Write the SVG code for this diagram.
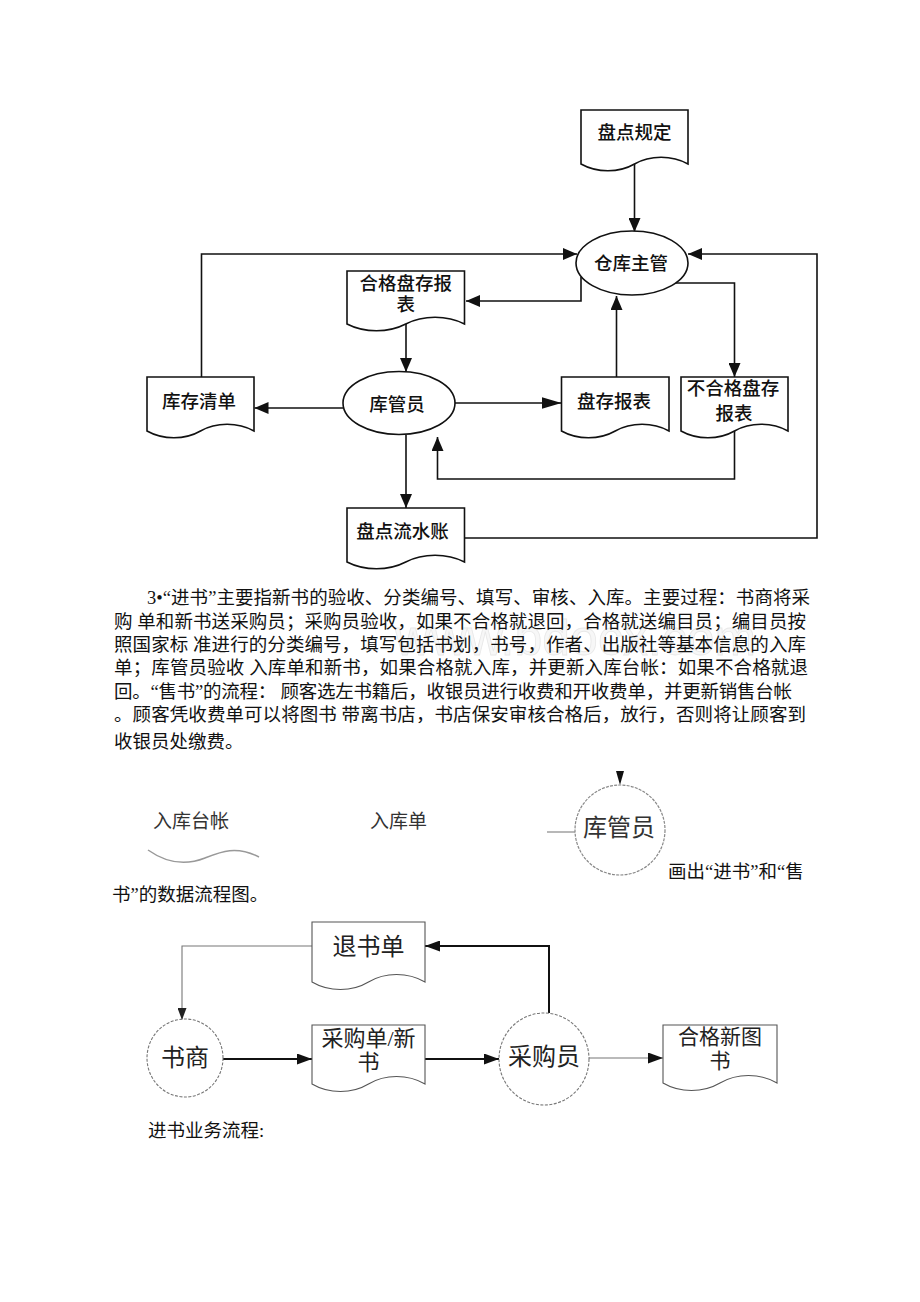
<svg xmlns="http://www.w3.org/2000/svg" width="920" height="1302" viewBox="0 0 920 1302">
<style>
.doc{fill:#fff;stroke:#111;stroke-width:1.6}
.proc{fill:#fff;stroke:#111;stroke-width:1.6}
.ln{fill:none;stroke:#111;stroke-width:1.6}
.t1{font-family:"Noto Sans CJK SC","Noto Sans",sans-serif;font-size:18.5px;font-weight:500;fill:#111;text-anchor:middle;dominant-baseline:central}
.p{font-family:"Liberation Serif","Noto Sans CJK SC",serif;font-size:18.5px;fill:#111;dominant-baseline:central}
.doc2{fill:#fff;stroke:#555;stroke-width:1.1}
.circ2{fill:#fff;stroke:#777;stroke-width:1.1;stroke-dasharray:3 1.5}
.t2{font-family:"Liberation Serif","Noto Sans CJK SC",serif;fill:#222;text-anchor:middle;dominant-baseline:central}
.ln2{fill:none;stroke:#111;stroke-width:2}
.ln3{fill:none;stroke:#777;stroke-width:1.1}
.wm{font-family:"Liberation Sans",sans-serif;font-size:50px;fill:#f7f7f7;stroke:#e8e8e8;stroke-width:0.8}
</style>
<defs>
<marker id="ah" markerUnits="userSpaceOnUse" markerWidth="14" markerHeight="12" refX="14" refY="6" orient="auto"><path d="M0,0 L14,6 L0,12 Z" fill="#111"/></marker>
<marker id="ahL" markerUnits="userSpaceOnUse" markerWidth="20" markerHeight="12" refX="20" refY="6" orient="auto"><path d="M0,0 L20,6 L0,12 Z" fill="#111"/></marker>
<marker id="ahB" markerUnits="userSpaceOnUse" markerWidth="15" markerHeight="11" refX="15" refY="5.5" orient="auto"><path d="M0,0 L15,5.5 L0,11 Z" fill="#111"/></marker>
<marker id="ahS" markerUnits="userSpaceOnUse" markerWidth="12" markerHeight="9" refX="12" refY="4.5" orient="auto"><path d="M0,0 L12,4.5 L0,9 Z" fill="#222"/></marker>
</defs>
<rect width="920" height="1302" fill="#fff"/>

<g id="connectors-top">
<path class="ln" d="M634.5,164 V232" marker-end="url(#ah)"/>
<path class="ln" d="M201.5,377 V254 H577" marker-end="url(#ah)"/>
<path class="ln" d="M464.5,538 H817 V254 H688" marker-end="url(#ah)"/>
<path class="ln" d="M581,277 V301 H466" marker-end="url(#ah)"/>
<path class="ln" d="M406,324 V372" marker-end="url(#ah)"/>
<path class="ln" d="M343,408 H254.5" marker-end="url(#ah)"/>
<path class="ln" d="M455,403 H561.5" marker-end="url(#ahL)"/>
<path class="ln" d="M616.5,377 V296" marker-end="url(#ah)"/>
<path class="ln" d="M675.5,283 H734.5 V377" marker-end="url(#ah)"/>
<path class="ln" d="M734.5,431 V479 H437.5 V437" marker-end="url(#ah)"/>
<path class="ln" d="M406,435 V508" marker-end="url(#ah)"/>
</g>

<g id="node-pandianguiding">
<path class="doc" d="M581,110 H688 V164 C672,155 650,155 634.5,164 C619,173 597,173 581,164 Z"/>
<text class="t1" x="634.5" y="131">盘点规定</text>
</g>
<g id="node-cangkuzhuguan">
<ellipse class="proc" cx="632" cy="263" rx="56" ry="32"/>
<text class="t1" x="631" y="262">仓库主管</text>
</g>
<g id="node-hegepancun">
<path class="doc" d="M347,271 H464.5 V324 C447,315 423,315 405.75,324 C388.5,333 364.5,333 347,324 Z"/>
<text class="t1" x="405.75" y="281.5">合格盘存报</text>
<text class="t1" x="405.75" y="303">表</text>
</g>
<g id="node-kuguanyuan">
<ellipse class="proc" cx="399" cy="403" rx="56" ry="31.5"/>
<text class="t1" x="397" y="403">库管员</text>
</g>
<g id="node-kucunqingdan">
<path class="doc" d="M147,377 H254 V431 C238,422 216,422 200.5,431 C185,440 163,440 147,431 Z"/>
<text class="t1" x="199" y="400">库存清单</text>
</g>
<g id="node-pancunbaobiao">
<path class="doc" d="M561.5,377 H669 V431 C653,422 631,422 615.25,431 C599.5,440 577.5,440 561.5,431 Z"/>
<text class="t1" x="614" y="400">盘存报表</text>
</g>
<g id="node-buhege">
<path class="doc" d="M681,377 H788 V431 C772,422 750,422 734.5,431 C719,440 697,440 681,431 Z"/>
<text class="t1" x="733" y="387">不合格盘存</text>
<text class="t1" x="734" y="411.5">报表</text>
</g>
<g id="node-pandianliushuizhang">
<path class="doc" d="M347,508 H464.5 V562 C447,553 423,553 405.75,562 C388.5,571 364.5,571 347,562 Z"/>
<text class="t1" x="402.5" y="530">盘点流水账</text>
</g>

<g id="paragraph">
<text class="wm" x="395" y="655">www.bdocx.com</text>
<text class="p" x="147" y="598" textLength="663" lengthAdjust="spacing">3•“进书”主要指新书的验收、分类编号、填写、审核、入库。主要过程：书商将采</text>
<text class="p" x="114" y="622" textLength="692" lengthAdjust="spacing">购 单和新书送采购员；采购员验收，如果不合格就退回，合格就送编目员；编目员按</text>
<text class="p" x="114" y="645" textLength="692" lengthAdjust="spacing">照国家标 准进行的分类编号，填写包括书划，书号，作者、出版社等基本信息的入库</text>
<text class="p" x="114" y="668" textLength="694" lengthAdjust="spacing">单；库管员验收 入库单和新书，如果合格就入库，并更新入库台帐：如果不合格就退</text>
<text class="p" x="114" y="692" textLength="678" lengthAdjust="spacing">回。“售书”的流程： 顾客选左书籍后，收银员进行收费和开收费单，并更新销售台帐</text>
<text class="p" x="114" y="715" textLength="692" lengthAdjust="spacing">。顾客凭收费单可以将图书 带离书店，书店保安审核合格后，放行，否则将让顾客到</text>
<text class="p" x="114" y="742">收银员处缴费。</text>
</g>

<g id="legend-rukutaizhang">
<text class="t2" x="191" y="821" style="font-size:19px;fill:#333">入库台帐</text>
<path d="M148,850 C165,862 185,866 205,858 C220,852 236,845 259,857" fill="none" stroke="#999" stroke-width="1.5"/>
</g>
<g id="legend-rukudan">
<text class="t2" x="398.5" y="821" style="font-size:19px;fill:#333">入库单</text>
</g>
<g id="legend-kuguanyuan">
<path d="M547,832 H575" fill="none" stroke="#888" stroke-width="1.2"/>
<polygon points="616,771 624,771 620,785" fill="#111"/>
<circle cx="620" cy="830" r="45" fill="#fff" stroke="#888" stroke-width="1.2" stroke-dasharray="3 1.2"/>
<text class="t2" x="619" y="828" style="font-size:24px;fill:#333">库管员</text>
</g>
<g id="caption">
<text class="p" x="668" y="872">画出“进书”和“售</text>
<text class="p" x="112" y="895">书”的数据流程图。</text>
</g>

<g id="connectors-bottom">
<path class="ln3" d="M312,946 H182 V1020" marker-end="url(#ahS)"/>
<path class="ln2" d="M223,1059 H312" marker-end="url(#ahB)"/>
<path class="ln2" d="M425,1059 H499" marker-end="url(#ahB)"/>
<path class="ln2" d="M549,1013 V946 H425" marker-end="url(#ahB)"/>
<path class="ln3" d="M589,1058 H663" marker-end="url(#ahB)"/>
</g>

<g id="node-tuishudan">
<path class="doc2" d="M312,922 H425 V982 C408,972 385,972 368.5,982 C352,992 329,992 312,982 Z"/>
<text class="t2" x="368.5" y="947" style="font-size:24px">退书单</text>
</g>
<g id="node-shushang">
<ellipse class="circ2" cx="185" cy="1058" rx="38" ry="39"/>
<text class="t2" x="185" y="1058" style="font-size:24px">书商</text>
</g>
<g id="node-caigoudan">
<path class="doc2" d="M312,1025 H425 V1084 C408,1074 385,1074 368.5,1084 C352,1094 329,1094 312,1084 Z"/>
<text class="t2" x="368.5" y="1038" style="font-size:22px">采购单/新</text>
<text class="t2" x="368.5" y="1062" style="font-size:22px">书</text>
</g>
<g id="node-caigouyuan">
<ellipse class="circ2" cx="544" cy="1059" rx="45" ry="46"/>
<text class="t2" x="544" y="1057" style="font-size:24px">采购员</text>
</g>
<g id="node-hegexintushu">
<path class="doc2" d="M663,1025 H777 V1083 C760,1073 737,1073 720,1083 C703,1093 680,1093 663,1083 Z"/>
<text class="t2" x="720" y="1037" style="font-size:21px">合格新图</text>
<text class="t2" x="720" y="1061" style="font-size:21px">书</text>
</g>

<text class="p" x="148" y="1131">进书业务流程:</text>
</svg>
